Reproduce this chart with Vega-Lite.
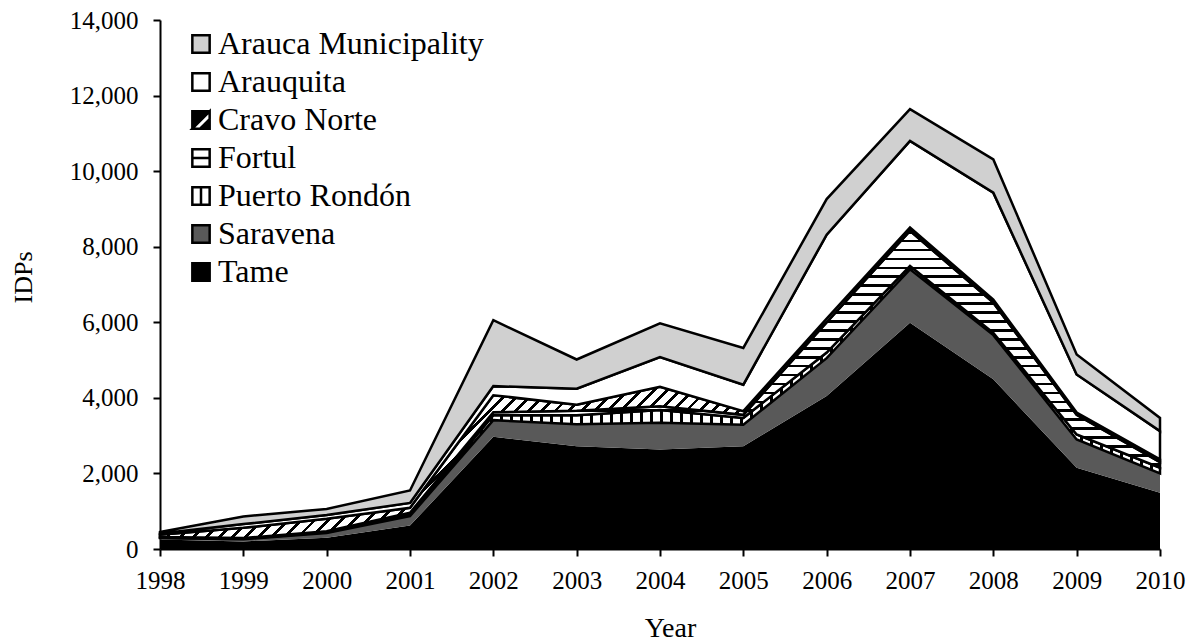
{
  "$schema": "https://vega.github.io/schema/vega-lite/v6.json",
  "width": 1000,
  "height": 529,
  "autosize": {"type": "none"},
  "padding": {"left": 160, "top": 20, "right": 32, "bottom": 92},
  "background": "white",
  "params": [
    {"name": "st", "value": [
{"offset":0,"color":"#000"},{"offset":0.003,"color":"#000"},{"offset":0.003,"color":"#fff"},{"offset":0.01,"color":"#fff"},
{"offset":0.01,"color":"#000"},{"offset":0.013,"color":"#000"},{"offset":0.013,"color":"#fff"},{"offset":0.02,"color":"#fff"},
{"offset":0.02,"color":"#000"},{"offset":0.023,"color":"#000"},{"offset":0.023,"color":"#fff"},{"offset":0.03,"color":"#fff"},
{"offset":0.03,"color":"#000"},{"offset":0.033,"color":"#000"},{"offset":0.033,"color":"#fff"},{"offset":0.04,"color":"#fff"},
{"offset":0.04,"color":"#000"},{"offset":0.043,"color":"#000"},{"offset":0.043,"color":"#fff"},{"offset":0.05,"color":"#fff"},
{"offset":0.05,"color":"#000"},{"offset":0.053,"color":"#000"},{"offset":0.053,"color":"#fff"},{"offset":0.06,"color":"#fff"},
{"offset":0.06,"color":"#000"},{"offset":0.063,"color":"#000"},{"offset":0.063,"color":"#fff"},{"offset":0.07,"color":"#fff"},
{"offset":0.07,"color":"#000"},{"offset":0.073,"color":"#000"},{"offset":0.073,"color":"#fff"},{"offset":0.08,"color":"#fff"},
{"offset":0.08,"color":"#000"},{"offset":0.083,"color":"#000"},{"offset":0.083,"color":"#fff"},{"offset":0.09,"color":"#fff"},
{"offset":0.09,"color":"#000"},{"offset":0.093,"color":"#000"},{"offset":0.093,"color":"#fff"},{"offset":0.1,"color":"#fff"},
{"offset":0.1,"color":"#000"},{"offset":0.103,"color":"#000"},{"offset":0.103,"color":"#fff"},{"offset":0.11,"color":"#fff"},
{"offset":0.11,"color":"#000"},{"offset":0.113,"color":"#000"},{"offset":0.113,"color":"#fff"},{"offset":0.12,"color":"#fff"},
{"offset":0.12,"color":"#000"},{"offset":0.123,"color":"#000"},{"offset":0.123,"color":"#fff"},{"offset":0.13,"color":"#fff"},
{"offset":0.13,"color":"#000"},{"offset":0.133,"color":"#000"},{"offset":0.133,"color":"#fff"},{"offset":0.14,"color":"#fff"},
{"offset":0.14,"color":"#000"},{"offset":0.143,"color":"#000"},{"offset":0.143,"color":"#fff"},{"offset":0.15,"color":"#fff"},
{"offset":0.15,"color":"#000"},{"offset":0.153,"color":"#000"},{"offset":0.153,"color":"#fff"},{"offset":0.16,"color":"#fff"},
{"offset":0.16,"color":"#000"},{"offset":0.163,"color":"#000"},{"offset":0.163,"color":"#fff"},{"offset":0.17,"color":"#fff"},
{"offset":0.17,"color":"#000"},{"offset":0.173,"color":"#000"},{"offset":0.173,"color":"#fff"},{"offset":0.18,"color":"#fff"},
{"offset":0.18,"color":"#000"},{"offset":0.183,"color":"#000"},{"offset":0.183,"color":"#fff"},{"offset":0.19,"color":"#fff"},
{"offset":0.19,"color":"#000"},{"offset":0.193,"color":"#000"},{"offset":0.193,"color":"#fff"},{"offset":0.2,"color":"#fff"},
{"offset":0.2,"color":"#000"},{"offset":0.203,"color":"#000"},{"offset":0.203,"color":"#fff"},{"offset":0.21,"color":"#fff"},
{"offset":0.21,"color":"#000"},{"offset":0.213,"color":"#000"},{"offset":0.213,"color":"#fff"},{"offset":0.22,"color":"#fff"},
{"offset":0.22,"color":"#000"},{"offset":0.223,"color":"#000"},{"offset":0.223,"color":"#fff"},{"offset":0.23,"color":"#fff"},
{"offset":0.23,"color":"#000"},{"offset":0.233,"color":"#000"},{"offset":0.233,"color":"#fff"},{"offset":0.24,"color":"#fff"},
{"offset":0.24,"color":"#000"},{"offset":0.243,"color":"#000"},{"offset":0.243,"color":"#fff"},{"offset":0.25,"color":"#fff"},
{"offset":0.25,"color":"#000"},{"offset":0.253,"color":"#000"},{"offset":0.253,"color":"#fff"},{"offset":0.26,"color":"#fff"},
{"offset":0.26,"color":"#000"},{"offset":0.263,"color":"#000"},{"offset":0.263,"color":"#fff"},{"offset":0.27,"color":"#fff"},
{"offset":0.27,"color":"#000"},{"offset":0.273,"color":"#000"},{"offset":0.273,"color":"#fff"},{"offset":0.28,"color":"#fff"},
{"offset":0.28,"color":"#000"},{"offset":0.283,"color":"#000"},{"offset":0.283,"color":"#fff"},{"offset":0.29,"color":"#fff"},
{"offset":0.29,"color":"#000"},{"offset":0.293,"color":"#000"},{"offset":0.293,"color":"#fff"},{"offset":0.3,"color":"#fff"},
{"offset":0.3,"color":"#000"},{"offset":0.303,"color":"#000"},{"offset":0.303,"color":"#fff"},{"offset":0.31,"color":"#fff"},
{"offset":0.31,"color":"#000"},{"offset":0.313,"color":"#000"},{"offset":0.313,"color":"#fff"},{"offset":0.32,"color":"#fff"},
{"offset":0.32,"color":"#000"},{"offset":0.323,"color":"#000"},{"offset":0.323,"color":"#fff"},{"offset":0.33,"color":"#fff"},
{"offset":0.33,"color":"#000"},{"offset":0.333,"color":"#000"},{"offset":0.333,"color":"#fff"},{"offset":0.34,"color":"#fff"},
{"offset":0.34,"color":"#000"},{"offset":0.343,"color":"#000"},{"offset":0.343,"color":"#fff"},{"offset":0.35,"color":"#fff"},
{"offset":0.35,"color":"#000"},{"offset":0.353,"color":"#000"},{"offset":0.353,"color":"#fff"},{"offset":0.36,"color":"#fff"},
{"offset":0.36,"color":"#000"},{"offset":0.363,"color":"#000"},{"offset":0.363,"color":"#fff"},{"offset":0.37,"color":"#fff"},
{"offset":0.37,"color":"#000"},{"offset":0.373,"color":"#000"},{"offset":0.373,"color":"#fff"},{"offset":0.38,"color":"#fff"},
{"offset":0.38,"color":"#000"},{"offset":0.383,"color":"#000"},{"offset":0.383,"color":"#fff"},{"offset":0.39,"color":"#fff"},
{"offset":0.39,"color":"#000"},{"offset":0.393,"color":"#000"},{"offset":0.393,"color":"#fff"},{"offset":0.4,"color":"#fff"},
{"offset":0.4,"color":"#000"},{"offset":0.403,"color":"#000"},{"offset":0.403,"color":"#fff"},{"offset":0.41,"color":"#fff"},
{"offset":0.41,"color":"#000"},{"offset":0.413,"color":"#000"},{"offset":0.413,"color":"#fff"},{"offset":0.42,"color":"#fff"},
{"offset":0.42,"color":"#000"},{"offset":0.423,"color":"#000"},{"offset":0.423,"color":"#fff"},{"offset":0.43,"color":"#fff"},
{"offset":0.43,"color":"#000"},{"offset":0.433,"color":"#000"},{"offset":0.433,"color":"#fff"},{"offset":0.44,"color":"#fff"},
{"offset":0.44,"color":"#000"},{"offset":0.443,"color":"#000"},{"offset":0.443,"color":"#fff"},{"offset":0.45,"color":"#fff"},
{"offset":0.45,"color":"#000"},{"offset":0.453,"color":"#000"},{"offset":0.453,"color":"#fff"},{"offset":0.46,"color":"#fff"},
{"offset":0.46,"color":"#000"},{"offset":0.463,"color":"#000"},{"offset":0.463,"color":"#fff"},{"offset":0.47,"color":"#fff"},
{"offset":0.47,"color":"#000"},{"offset":0.473,"color":"#000"},{"offset":0.473,"color":"#fff"},{"offset":0.48,"color":"#fff"},
{"offset":0.48,"color":"#000"},{"offset":0.483,"color":"#000"},{"offset":0.483,"color":"#fff"},{"offset":0.49,"color":"#fff"},
{"offset":0.49,"color":"#000"},{"offset":0.493,"color":"#000"},{"offset":0.493,"color":"#fff"},{"offset":0.5,"color":"#fff"},
{"offset":0.5,"color":"#000"},{"offset":0.503,"color":"#000"},{"offset":0.503,"color":"#fff"},{"offset":0.51,"color":"#fff"},
{"offset":0.51,"color":"#000"},{"offset":0.513,"color":"#000"},{"offset":0.513,"color":"#fff"},{"offset":0.52,"color":"#fff"},
{"offset":0.52,"color":"#000"},{"offset":0.523,"color":"#000"},{"offset":0.523,"color":"#fff"},{"offset":0.53,"color":"#fff"},
{"offset":0.53,"color":"#000"},{"offset":0.533,"color":"#000"},{"offset":0.533,"color":"#fff"},{"offset":0.54,"color":"#fff"},
{"offset":0.54,"color":"#000"},{"offset":0.543,"color":"#000"},{"offset":0.543,"color":"#fff"},{"offset":0.55,"color":"#fff"},
{"offset":0.55,"color":"#000"},{"offset":0.553,"color":"#000"},{"offset":0.553,"color":"#fff"},{"offset":0.56,"color":"#fff"},
{"offset":0.56,"color":"#000"},{"offset":0.563,"color":"#000"},{"offset":0.563,"color":"#fff"},{"offset":0.57,"color":"#fff"},
{"offset":0.57,"color":"#000"},{"offset":0.573,"color":"#000"},{"offset":0.573,"color":"#fff"},{"offset":0.58,"color":"#fff"},
{"offset":0.58,"color":"#000"},{"offset":0.583,"color":"#000"},{"offset":0.583,"color":"#fff"},{"offset":0.59,"color":"#fff"},
{"offset":0.59,"color":"#000"},{"offset":0.593,"color":"#000"},{"offset":0.593,"color":"#fff"},{"offset":0.6,"color":"#fff"},
{"offset":0.6,"color":"#000"},{"offset":0.603,"color":"#000"},{"offset":0.603,"color":"#fff"},{"offset":0.61,"color":"#fff"},
{"offset":0.61,"color":"#000"},{"offset":0.613,"color":"#000"},{"offset":0.613,"color":"#fff"},{"offset":0.62,"color":"#fff"},
{"offset":0.62,"color":"#000"},{"offset":0.623,"color":"#000"},{"offset":0.623,"color":"#fff"},{"offset":0.63,"color":"#fff"},
{"offset":0.63,"color":"#000"},{"offset":0.633,"color":"#000"},{"offset":0.633,"color":"#fff"},{"offset":0.64,"color":"#fff"},
{"offset":0.64,"color":"#000"},{"offset":0.643,"color":"#000"},{"offset":0.643,"color":"#fff"},{"offset":0.65,"color":"#fff"},
{"offset":0.65,"color":"#000"},{"offset":0.653,"color":"#000"},{"offset":0.653,"color":"#fff"},{"offset":0.66,"color":"#fff"},
{"offset":0.66,"color":"#000"},{"offset":0.663,"color":"#000"},{"offset":0.663,"color":"#fff"},{"offset":0.67,"color":"#fff"},
{"offset":0.67,"color":"#000"},{"offset":0.673,"color":"#000"},{"offset":0.673,"color":"#fff"},{"offset":0.68,"color":"#fff"},
{"offset":0.68,"color":"#000"},{"offset":0.683,"color":"#000"},{"offset":0.683,"color":"#fff"},{"offset":0.69,"color":"#fff"},
{"offset":0.69,"color":"#000"},{"offset":0.693,"color":"#000"},{"offset":0.693,"color":"#fff"},{"offset":0.7,"color":"#fff"},
{"offset":0.7,"color":"#000"},{"offset":0.703,"color":"#000"},{"offset":0.703,"color":"#fff"},{"offset":0.71,"color":"#fff"},
{"offset":0.71,"color":"#000"},{"offset":0.713,"color":"#000"},{"offset":0.713,"color":"#fff"},{"offset":0.72,"color":"#fff"},
{"offset":0.72,"color":"#000"},{"offset":0.723,"color":"#000"},{"offset":0.723,"color":"#fff"},{"offset":0.73,"color":"#fff"},
{"offset":0.73,"color":"#000"},{"offset":0.733,"color":"#000"},{"offset":0.733,"color":"#fff"},{"offset":0.74,"color":"#fff"},
{"offset":0.74,"color":"#000"},{"offset":0.743,"color":"#000"},{"offset":0.743,"color":"#fff"},{"offset":0.75,"color":"#fff"},
{"offset":0.75,"color":"#000"},{"offset":0.753,"color":"#000"},{"offset":0.753,"color":"#fff"},{"offset":0.76,"color":"#fff"},
{"offset":0.76,"color":"#000"},{"offset":0.763,"color":"#000"},{"offset":0.763,"color":"#fff"},{"offset":0.77,"color":"#fff"},
{"offset":0.77,"color":"#000"},{"offset":0.773,"color":"#000"},{"offset":0.773,"color":"#fff"},{"offset":0.78,"color":"#fff"},
{"offset":0.78,"color":"#000"},{"offset":0.783,"color":"#000"},{"offset":0.783,"color":"#fff"},{"offset":0.79,"color":"#fff"},
{"offset":0.79,"color":"#000"},{"offset":0.793,"color":"#000"},{"offset":0.793,"color":"#fff"},{"offset":0.8,"color":"#fff"},
{"offset":0.8,"color":"#000"},{"offset":0.803,"color":"#000"},{"offset":0.803,"color":"#fff"},{"offset":0.81,"color":"#fff"},
{"offset":0.81,"color":"#000"},{"offset":0.813,"color":"#000"},{"offset":0.813,"color":"#fff"},{"offset":0.82,"color":"#fff"},
{"offset":0.82,"color":"#000"},{"offset":0.823,"color":"#000"},{"offset":0.823,"color":"#fff"},{"offset":0.83,"color":"#fff"},
{"offset":0.83,"color":"#000"},{"offset":0.833,"color":"#000"},{"offset":0.833,"color":"#fff"},{"offset":0.84,"color":"#fff"},
{"offset":0.84,"color":"#000"},{"offset":0.843,"color":"#000"},{"offset":0.843,"color":"#fff"},{"offset":0.85,"color":"#fff"},
{"offset":0.85,"color":"#000"},{"offset":0.853,"color":"#000"},{"offset":0.853,"color":"#fff"},{"offset":0.86,"color":"#fff"},
{"offset":0.86,"color":"#000"},{"offset":0.863,"color":"#000"},{"offset":0.863,"color":"#fff"},{"offset":0.87,"color":"#fff"},
{"offset":0.87,"color":"#000"},{"offset":0.873,"color":"#000"},{"offset":0.873,"color":"#fff"},{"offset":0.88,"color":"#fff"},
{"offset":0.88,"color":"#000"},{"offset":0.883,"color":"#000"},{"offset":0.883,"color":"#fff"},{"offset":0.89,"color":"#fff"},
{"offset":0.89,"color":"#000"},{"offset":0.893,"color":"#000"},{"offset":0.893,"color":"#fff"},{"offset":0.9,"color":"#fff"},
{"offset":0.9,"color":"#000"},{"offset":0.903,"color":"#000"},{"offset":0.903,"color":"#fff"},{"offset":0.91,"color":"#fff"},
{"offset":0.91,"color":"#000"},{"offset":0.913,"color":"#000"},{"offset":0.913,"color":"#fff"},{"offset":0.92,"color":"#fff"},
{"offset":0.92,"color":"#000"},{"offset":0.923,"color":"#000"},{"offset":0.923,"color":"#fff"},{"offset":0.93,"color":"#fff"},
{"offset":0.93,"color":"#000"},{"offset":0.933,"color":"#000"},{"offset":0.933,"color":"#fff"},{"offset":0.94,"color":"#fff"},
{"offset":0.94,"color":"#000"},{"offset":0.943,"color":"#000"},{"offset":0.943,"color":"#fff"},{"offset":0.95,"color":"#fff"},
{"offset":0.95,"color":"#000"},{"offset":0.953,"color":"#000"},{"offset":0.953,"color":"#fff"},{"offset":0.96,"color":"#fff"},
{"offset":0.96,"color":"#000"},{"offset":0.963,"color":"#000"},{"offset":0.963,"color":"#fff"},{"offset":0.97,"color":"#fff"},
{"offset":0.97,"color":"#000"},{"offset":0.973,"color":"#000"},{"offset":0.973,"color":"#fff"},{"offset":0.98,"color":"#fff"},
{"offset":0.98,"color":"#000"},{"offset":0.983,"color":"#000"},{"offset":0.983,"color":"#fff"},{"offset":0.99,"color":"#fff"},
{"offset":0.99,"color":"#000"},{"offset":0.993,"color":"#000"},{"offset":0.993,"color":"#fff"},{"offset":1,"color":"#fff"}
    ]}
  ],
  "data": {"values": [
    {"year":1998,"series":"Tame","value":250},{"year":1998,"series":"Saravena","value":40},{"year":1998,"series":"Puerto Rondón","value":10},{"year":1998,"series":"Fortul","value":20},{"year":1998,"series":"Cravo Norte","value":60},{"year":1998,"series":"Arauquita","value":30},{"year":1998,"series":"Arauca Municipality","value":40},
    {"year":1999,"series":"Tame","value":200},{"year":1999,"series":"Saravena","value":60},{"year":1999,"series":"Puerto Rondón","value":10},{"year":1999,"series":"Fortul","value":20},{"year":1999,"series":"Cravo Norte","value":270},{"year":1999,"series":"Arauquita","value":100},{"year":1999,"series":"Arauca Municipality","value":200},
    {"year":2000,"series":"Tame","value":300},{"year":2000,"series":"Saravena","value":120},{"year":2000,"series":"Puerto Rondón","value":20},{"year":2000,"series":"Fortul","value":30},{"year":2000,"series":"Cravo Norte","value":330},{"year":2000,"series":"Arauquita","value":100},{"year":2000,"series":"Arauca Municipality","value":160},
    {"year":2001,"series":"Tame","value":620},{"year":2001,"series":"Saravena","value":250},{"year":2001,"series":"Puerto Rondón","value":40},{"year":2001,"series":"Fortul","value":50},{"year":2001,"series":"Cravo Norte","value":130},{"year":2001,"series":"Arauquita","value":130},{"year":2001,"series":"Arauca Municipality","value":330},
    {"year":2002,"series":"Tame","value":2970},{"year":2002,"series":"Saravena","value":440},{"year":2002,"series":"Puerto Rondón","value":130},{"year":2002,"series":"Fortul","value":80},{"year":2002,"series":"Cravo Norte","value":450},{"year":2002,"series":"Arauquita","value":240},{"year":2002,"series":"Arauca Municipality","value":1745},
    {"year":2003,"series":"Tame","value":2720},{"year":2003,"series":"Saravena","value":580},{"year":2003,"series":"Puerto Rondón","value":240},{"year":2003,"series":"Fortul","value":120},{"year":2003,"series":"Cravo Norte","value":160},{"year":2003,"series":"Arauquita","value":420},{"year":2003,"series":"Arauca Municipality","value":775},
    {"year":2004,"series":"Tame","value":2630},{"year":2004,"series":"Saravena","value":710},{"year":2004,"series":"Puerto Rondón","value":340},{"year":2004,"series":"Fortul","value":100},{"year":2004,"series":"Cravo Norte","value":510},{"year":2004,"series":"Arauquita","value":790},{"year":2004,"series":"Arauca Municipality","value":890},
    {"year":2005,"series":"Tame","value":2720},{"year":2005,"series":"Saravena","value":570},{"year":2005,"series":"Puerto Rondón","value":180},{"year":2005,"series":"Fortul","value":80},{"year":2005,"series":"Cravo Norte","value":100},{"year":2005,"series":"Arauquita","value":700},{"year":2005,"series":"Arauca Municipality","value":970},
    {"year":2006,"series":"Tame","value":4050},{"year":2006,"series":"Saravena","value":1000},{"year":2006,"series":"Puerto Rondón","value":150},{"year":2006,"series":"Fortul","value":800},{"year":2006,"series":"Cravo Norte","value":100},{"year":2006,"series":"Arauquita","value":2220},{"year":2006,"series":"Arauca Municipality","value":940},
    {"year":2007,"series":"Tame","value":5990},{"year":2007,"series":"Saravena","value":1410},{"year":2007,"series":"Puerto Rondón","value":90},{"year":2007,"series":"Fortul","value":930},{"year":2007,"series":"Cravo Norte","value":90},{"year":2007,"series":"Arauquita","value":2290},{"year":2007,"series":"Arauca Municipality","value":840},
    {"year":2008,"series":"Tame","value":4490},{"year":2008,"series":"Saravena","value":1170},{"year":2008,"series":"Puerto Rondón","value":60},{"year":2008,"series":"Fortul","value":800},{"year":2008,"series":"Cravo Norte","value":80},{"year":2008,"series":"Arauquita","value":2830},{"year":2008,"series":"Arauca Municipality","value":880},
    {"year":2009,"series":"Tame","value":2150},{"year":2009,"series":"Saravena","value":750},{"year":2009,"series":"Puerto Rondón","value":130},{"year":2009,"series":"Fortul","value":520},{"year":2009,"series":"Cravo Norte","value":60},{"year":2009,"series":"Arauquita","value":1010},{"year":2009,"series":"Arauca Municipality","value":530},
    {"year":2010,"series":"Tame","value":1490},{"year":2010,"series":"Saravena","value":510},{"year":2010,"series":"Puerto Rondón","value":150},{"year":2010,"series":"Fortul","value":150},{"year":2010,"series":"Cravo Norte","value":70},{"year":2010,"series":"Arauquita","value":750},{"year":2010,"series":"Arauca Municipality","value":350}
  ]},
  "transform": [
    {"stack": "value", "groupby": ["year"], "sort": [{"field": "series", "order": "descending"}], "as": ["y0", "y1"]}
  ],
  "encoding": {
    "x": {
      "field": "year", "type": "quantitative", "title": "Year",
      "scale": {"domain": [1998, 2010], "nice": false, "zero": false},
      "axis": {"values": [1998,1999,2000,2001,2002,2003,2004,2005,2006,2007,2008,2009,2010], "format": "d", "labelFlush": false, "labelOverlap": false, "labelPadding": 12, "titleX": 510, "titleY": 87, "titleBaseline": "alphabetic", "titleAlign": "center", "titleFontSize": 28}
    }
  },
  "layer": [
    {
      "transform": [{"filter": "datum.year === 2006"}],
      "mark": {"type": "point", "filled": true, "strokeWidth": 2.5, "size": 300, "opacity": 1},
      "encoding": {
        "y": {"datum": 1000, "type": "quantitative", "title": "IDPs", "scale": {"domain": [0, 14000], "nice": false},
          "axis": {"values": [0,2000,4000,6000,8000,10000,12000,14000], "format": ",.0f", "labelPadding": 15, "titleX": -137, "titleY": 257, "titleBaseline": "middle", "titleAlign": "center", "titleAngle": -90}},
        "fill": {
          "field": "series", "type": "nominal",
          "scale": {"domain": ["Arauca Municipality","Arauquita","Cravo Norte","Fortul","Puerto Rondón","Saravena","Tame"], "range": ["#d0d0d0","#ffffff","#000000","#ffffff","#ffffff","#595959","#000000"]},
          "legend": {"title": null, "orient": "none", "legendX": 25, "legendY": 8, "labelOffset": 1}
        },
        "stroke": {
          "field": "series", "type": "nominal",
          "scale": {"domain": ["Arauca Municipality","Arauquita","Cravo Norte","Fortul","Puerto Rondón","Saravena","Tame"], "range": ["#000000","#000000","#000000","#000000","#000000","#000000","#000000"]},
          "legend": {"title": null, "orient": "none", "legendX": 25, "legendY": 8, "labelOffset": 1}
        },
        "shape": {
          "field": "series", "type": "nominal",
          "scale": {"domain": ["Arauca Municipality","Arauquita","Cravo Norte","Fortul","Puerto Rondón","Saravena","Tame"], "range": ["M-1,-1H1V1H-1Z","M-1,-1H1V1H-1Z","M-1,-1H1V1H-1Z M-1,1L-0.1,1L1,-0.1L1,-1Z","M-1,-1H1V1H-1Z M-1,0H1","M-1,-1H1V1H-1Z M0,-1V1","M-1,-1H1V1H-1Z","M-1,-1H1V1H-1Z"]},
          "legend": {"title": null, "orient": "none", "legendX": 25, "legendY": 8, "labelOffset": 1}
        }
      }
    },
    {
      "transform": [{"filter": "datum.series === 'Tame'"}],
      "mark": {"type": "area", "fill": "#000000", "stroke": null},
      "encoding": {
        "y": {"field": "y1", "type": "quantitative", "title": "IDPs", "scale": {"domain": [0, 14000], "nice": false},
          "axis": {"values": [0,2000,4000,6000,8000,10000,12000,14000], "format": ",.0f", "labelPadding": 15, "titleX": -137, "titleY": 257, "titleBaseline": "middle", "titleAlign": "center", "titleAngle": -90}},
        "y2": {"field": "y0"}
      }
    },
    {
      "transform": [{"filter": "datum.series === 'Saravena'"}],
      "mark": {"type": "area", "fill": "#595959", "stroke": null},
      "encoding": {
        "y": {"field": "y1", "type": "quantitative", "title": "IDPs", "scale": {"domain": [0, 14000], "nice": false},
          "axis": {"values": [0,2000,4000,6000,8000,10000,12000,14000], "format": ",.0f", "labelPadding": 15, "titleX": -137, "titleY": 257, "titleBaseline": "middle", "titleAlign": "center", "titleAngle": -90}},
        "y2": {"field": "y0"}
      }
    },
    {
      "transform": [{"filter": "datum.series === 'Puerto Rondón'"}],
      "mark": {"type": "area", "fill": {"expr": "{gradient: 'linear', x1: 0, y1: 0, x2: 1, y2: 0, stops: st}"}, "stroke": "black", "strokeWidth": 2.5},
      "encoding": {
        "y": {"field": "y1", "type": "quantitative", "title": "IDPs", "scale": {"domain": [0, 14000], "nice": false},
          "axis": {"values": [0,2000,4000,6000,8000,10000,12000,14000], "format": ",.0f", "labelPadding": 15, "titleX": -137, "titleY": 257, "titleBaseline": "middle", "titleAlign": "center", "titleAngle": -90}},
        "y2": {"field": "y0"}
      }
    },
    {
      "transform": [{"filter": "datum.series === 'Fortul'"}],
      "mark": {"type": "area", "fill": {"expr": "{gradient: 'linear', x1: 0, y1: 0, x2: 0, y2: 2.9, stops: st}"}, "stroke": "black", "strokeWidth": 2.5},
      "encoding": {
        "y": {"field": "y1", "type": "quantitative", "title": "IDPs", "scale": {"domain": [0, 14000], "nice": false},
          "axis": {"values": [0,2000,4000,6000,8000,10000,12000,14000], "format": ",.0f", "labelPadding": 15, "titleX": -137, "titleY": 257, "titleBaseline": "middle", "titleAlign": "center", "titleAngle": -90}},
        "y2": {"field": "y0"}
      }
    },
    {
      "transform": [{"filter": "datum.series === 'Cravo Norte'"}],
      "mark": {"type": "area", "fill": {"expr": "{gradient: 'linear', x1: 0, y1: 0, x2: 1.195, y2: 0.371, stops: st}"}, "stroke": "black", "strokeWidth": 2.5},
      "encoding": {
        "y": {"field": "y1", "type": "quantitative", "title": "IDPs", "scale": {"domain": [0, 14000], "nice": false},
          "axis": {"values": [0,2000,4000,6000,8000,10000,12000,14000], "format": ",.0f", "labelPadding": 15, "titleX": -137, "titleY": 257, "titleBaseline": "middle", "titleAlign": "center", "titleAngle": -90}},
        "y2": {"field": "y0"}
      }
    },
    {
      "transform": [{"filter": "datum.series === 'Arauquita'"}],
      "mark": {"type": "area", "fill": "#ffffff", "stroke": "black", "strokeWidth": 2.5},
      "encoding": {
        "y": {"field": "y1", "type": "quantitative", "title": "IDPs", "scale": {"domain": [0, 14000], "nice": false},
          "axis": {"values": [0,2000,4000,6000,8000,10000,12000,14000], "format": ",.0f", "labelPadding": 15, "titleX": -137, "titleY": 257, "titleBaseline": "middle", "titleAlign": "center", "titleAngle": -90}},
        "y2": {"field": "y0"}
      }
    },
    {
      "transform": [{"filter": "datum.series === 'Arauca Municipality'"}],
      "mark": {"type": "area", "fill": "#d0d0d0", "stroke": "black", "strokeWidth": 2.5},
      "encoding": {
        "y": {"field": "y1", "type": "quantitative", "title": "IDPs", "scale": {"domain": [0, 14000], "nice": false},
          "axis": {"values": [0,2000,4000,6000,8000,10000,12000,14000], "format": ",.0f", "labelPadding": 15, "titleX": -137, "titleY": 257, "titleBaseline": "middle", "titleAlign": "center", "titleAngle": -90}},
        "y2": {"field": "y0"}
      }
    }
  ],
  "config": {
    "font": "Liberation Serif",
    "view": {"stroke": null},
    "axis": {
      "grid": false,
      "labelFont": "Liberation Serif", "labelFontSize": 25, "labelColor": "#000000",
      "titleFont": "Liberation Serif", "titleFontSize": 26, "titleFontWeight": "normal", "titleColor": "#000000",
      "domainColor": "#000000", "domainWidth": 2,
      "tickColor": "#000000", "tickWidth": 2, "tickSize": 7
    },
    "legend": {
      "labelFont": "Liberation Serif", "labelFontSize": 32, "labelColor": "#000000", "labelLimit": 0,
      "symbolSize": 300, "symbolStrokeWidth": 2.5, "symbolStrokeColor": "#000000",
      "rowPadding": 6
    }
  }
}
